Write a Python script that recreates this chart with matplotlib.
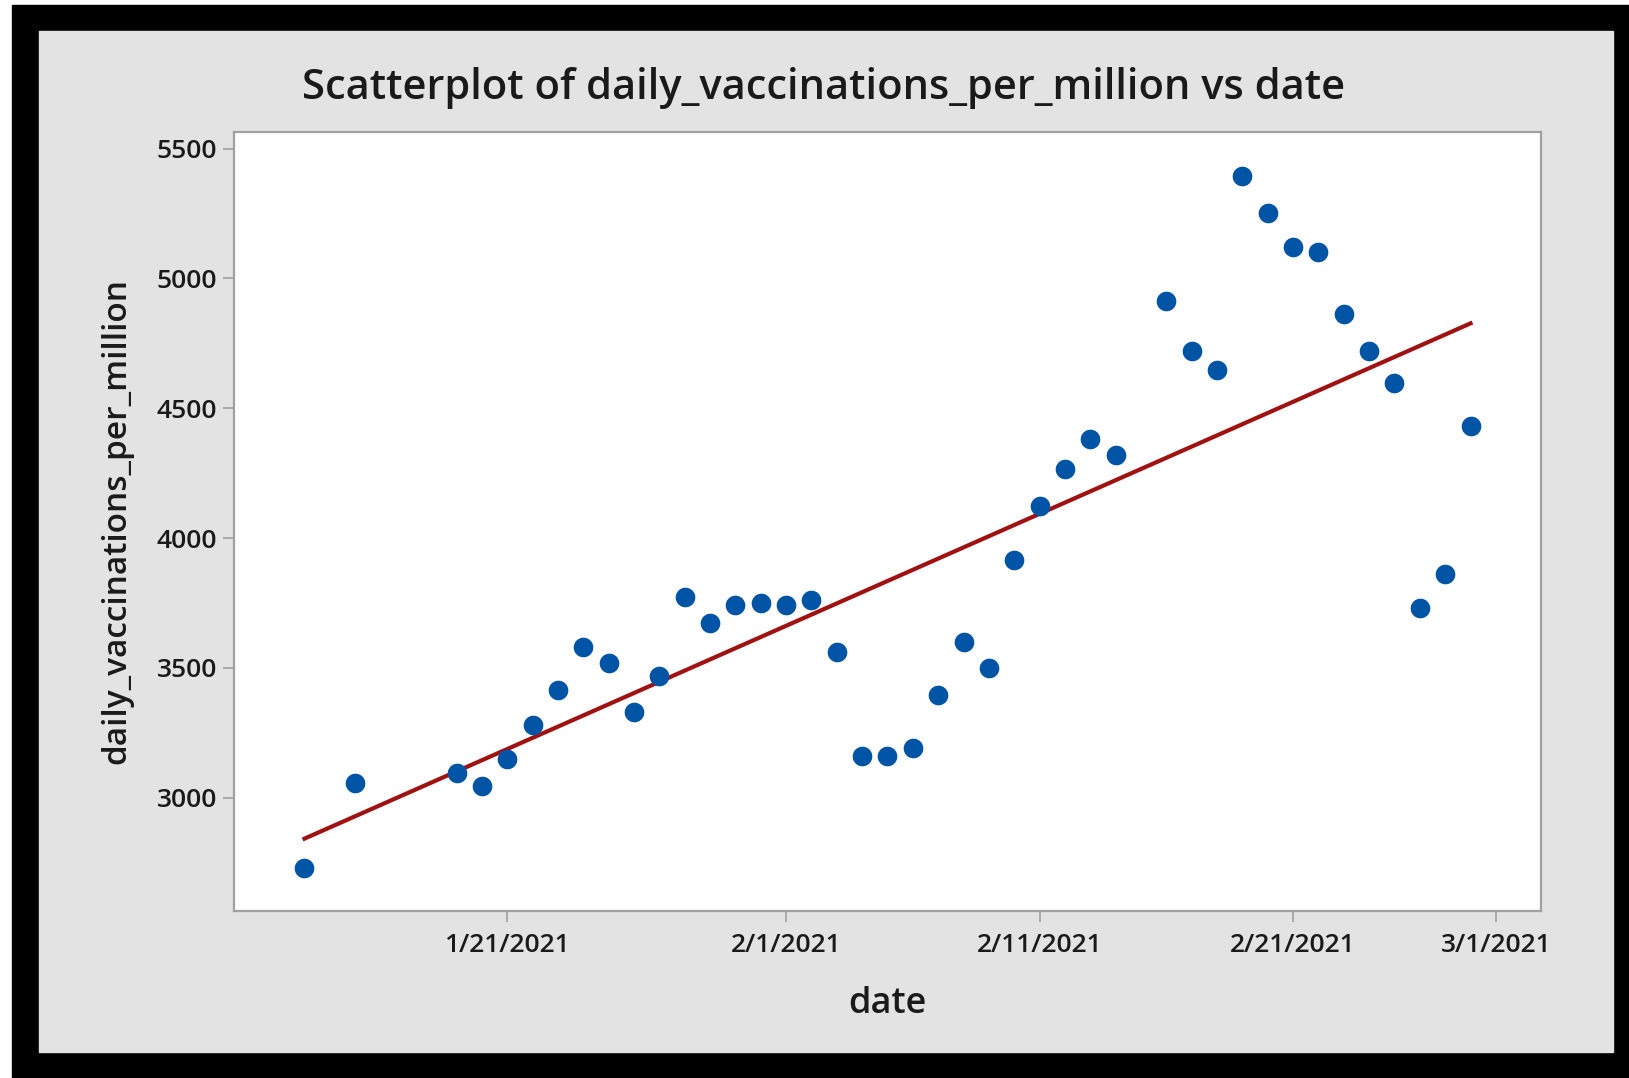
import numpy as np
import matplotlib
matplotlib.use("Agg")
import matplotlib.pyplot as plt
import matplotlib.dates as mdates
from matplotlib.patches import Rectangle
from datetime import datetime as dt

plt.rcParams['font.family'] = ['Open Sans', 'DejaVu Sans']

# dati
date_str = ['2021-01-13', '2021-01-15', '2021-01-19', '2021-01-20', '2021-01-21',
            '2021-01-22', '2021-01-23', '2021-01-24', '2021-01-25', '2021-01-26',
            '2021-01-27', '2021-01-28', '2021-01-29', '2021-01-30', '2021-01-31',
            '2021-02-01', '2021-02-02', '2021-02-03', '2021-02-04', '2021-02-05',
            '2021-02-06', '2021-02-07', '2021-02-08', '2021-02-09', '2021-02-10',
            '2021-02-11', '2021-02-12', '2021-02-13', '2021-02-14', '2021-02-16',
            '2021-02-17', '2021-02-18', '2021-02-19', '2021-02-20', '2021-02-21',
            '2021-02-22', '2021-02-23', '2021-02-24', '2021-02-25', '2021-02-26',
            '2021-02-27', '2021-02-28']
vacc = [2728, 3056, 3096, 3044, 3148,
        3280, 3416, 3580, 3520, 3332,
        3468, 3772, 3672, 3744, 3752,
        3744, 3760, 3560, 3160, 3160,
        3192, 3396, 3600, 3500, 3916,
        4124, 4268, 4380, 4320, 4912,
        4720, 4648, 5396, 5252, 5120,
        5100, 4864, 4720, 4596, 3732,
        3860, 4432]
tick_str = ['2021-01-21', '2021-02-01', '2021-02-11', '2021-02-21', '2021-03-01']
ytick_vals = [3000, 3500, 4000, 4500, 5000, 5500]

date = [dt.strptime(s, '%Y-%m-%d') for s in date_str]
x = mdates.date2num(date)
y = np.array(vacc, dtype=float)
ticks = [dt.strptime(s, '%Y-%m-%d') for s in tick_str]

fig = plt.figure(figsize=(16.29, 10.78), dpi=100)
fig.patch.set_facecolor('white')

# cornice nera e sfondo grigio
W, H = 1629, 1078
fig.patches.append(Rectangle((12 / W, 0), 1 - 12 / W, 1 - 5 / H,
                             transform=fig.transFigure, color='black', zorder=-2))
fig.patches.append(Rectangle((39 / W, 1 - 1052 / H), (1613 - 39) / W, (1052 - 31) / H,
                             transform=fig.transFigure, color='#e3e3e3', zorder=-1))

ax = fig.add_axes([234 / W, 1 - 911 / H, (1541 - 234) / W, (911 - 132) / H])
ax.set_facecolor('white')

# retta di regressione
coef = np.polyfit(x, y, 1)
xl = np.array([x.min(), x.max()])
ax.plot(xl, np.polyval(coef, xl), color='#a01212', lw=3, zorder=2)
ax.scatter(x, y, s=200, color='#0054a6', zorder=3, linewidths=0)

x0 = mdates.date2num(dt(2021, 1, 21))
ax.set_xlim(x0 - 10.78, x0 + 40.78)
ax.set_ylim(2564, 5564)
ax.set_xticks(mdates.date2num(ticks))
ax.set_xticklabels([f'{t.month}/{t.day}/{t.year}' for t in ticks])
ax.set_yticks(ytick_vals)

for sp in ax.spines.values():
    sp.set_color('#a0a0a0')
    sp.set_linewidth(1.6)
ax.tick_params(axis='both', direction='out', length=8, width=1.2, color='#a0a0a0',
               labelsize=19, labelcolor='#1a1a1a', pad=4)
ax.tick_params(axis='x', pad=8)
for lab in ax.get_xticklabels() + ax.get_yticklabels():
    lab.set_fontweight('semibold')

ax.set_xlabel('date', fontsize=26, color='#1a1a1a', labelpad=20, fontweight='semibold')
ax.set_ylabel('daily_vaccinations_per_million', fontsize=24, color='#1a1a1a',
              labelpad=17, fontweight='semibold')
fig.text(824 / W, 1 - 88 / H, 'Scatterplot of daily_vaccinations_per_million vs date',
         fontsize=30, color='#1a1a1a', ha='center', va='center', fontweight='semibold')

fig.savefig('out.png', dpi=100)
